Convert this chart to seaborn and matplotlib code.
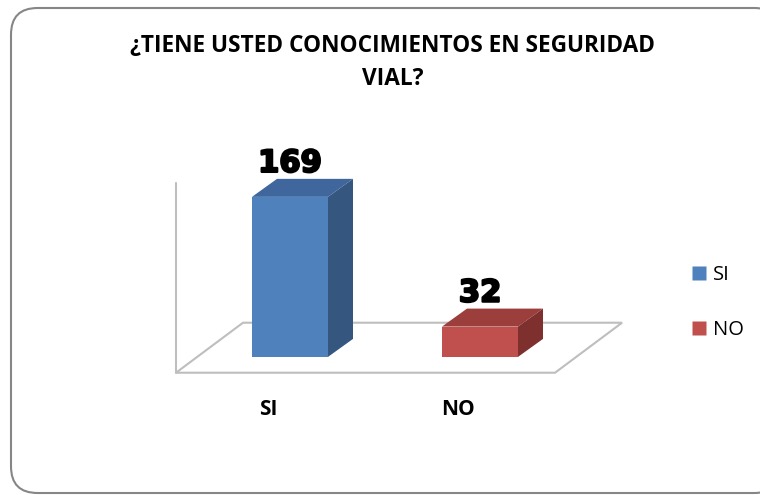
import matplotlib
matplotlib.use("Agg")
import matplotlib.pyplot as plt
import matplotlib.patheffects as pe
import seaborn as sns
import pandas as pd
from matplotlib.patches import Polygon, FancyBboxPatch
from matplotlib.lines import Line2D
from matplotlib.transforms import ScaledTranslation

# Data
categories = ["SI", "NO"]
values = [169, 32]
title = "¿TIENE USTED CONOCIMIENTOS EN SEGURIDAD\nVIAL?"

front_colors = ["#4F81BD", "#C0504D"]
side_colors = ["#34567F", "#7E302E"]
top_colors = ["#3F679D", "#9C3E3C"]

df = pd.DataFrame({"respuesta": categories, "total": values})

sns.set_style("white")
plt.rcParams["font.family"] = ["Open Sans", "DejaVu Sans"]
plt.rcParams["text.color"] = "black"
plt.rcParams["xtick.color"] = "black"

fig = plt.figure(figsize=(7.6, 4.95), dpi=100)

# rounded frame (behind everything)
frame = FancyBboxPatch((11 / 760, 2 / 495), 770 / 760, 485 / 495,
                       boxstyle="round,pad=0,rounding_size=0.035",
                       transform=fig.transFigure, facecolor="white",
                       edgecolor="#868686", linewidth=1.5, zorder=-5,
                       mutation_aspect=760 / 495)
fig.patches.append(frame)

# axes placed so that 1 x-unit = 190 px and 1 y-unit ~ 0.947 px
ax = fig.add_axes([176 / 760, (495 - 373) / 495, 475 / 760, 205.5 / 495])
ax.patch.set_alpha(0)

sns.barplot(data=df, x="respuesta", y="total", hue="respuesta",
            palette=front_colors, width=0.4, ax=ax, legend=False,
            saturation=1, zorder=3, linewidth=0)
ax.set_xlim(-0.6, 1.9)
ax.set_ylim(-17, 200)

# depth of bars and floor (data units)
px_x = 190.0
px_y = 205.5 / 217
bdx, bdy = 25 / px_x, 18 / px_y
fdx, fdy = 67 / px_x, 50 / px_y
floor_y = -17 + 0.3

# floor and wall
x_left, x_right = -0.6, 1.395
floor = Polygon([(x_left, floor_y), (x_right, floor_y),
                 (x_right + fdx, floor_y + fdy), (x_left + fdx, floor_y + fdy)],
                closed=True, facecolor="white", edgecolor="#BEBEBE",
                linewidth=1.5, zorder=1, clip_on=False)
ax.add_patch(floor)
ax.plot([x_left, x_left], [floor_y, 184], color="#BEBEBE", lw=1.5,
        zorder=1, clip_on=False)

for i, p in enumerate(ax.patches[:len(values)]):
    x0 = p.get_x()
    w = p.get_width()
    h = p.get_height()
    x1 = x0 + w
    top = Polygon([(x0, h), (x1, h), (x1 + bdx, h + bdy), (x0 + bdx, h + bdy)],
                  closed=True, facecolor=top_colors[i], edgecolor="none", zorder=3)
    side = Polygon([(x1, 0), (x1 + bdx, bdy), (x1 + bdx, h + bdy), (x1, h)],
                   closed=True, facecolor=side_colors[i], edgecolor="none", zorder=3)
    ax.add_patch(top)
    ax.add_patch(side)
    ax.text(x0 + w / 2, h + bdy + 1, str(values[i]),
            ha="center", va="bottom", fontsize=22, fontweight="bold",
            family="DejaVu Sans", color="black", zorder=5,
            path_effects=[pe.withStroke(linewidth=1.6, foreground="black")])

sns.despine(ax=ax, left=True, bottom=True)
ax.set_yticks([])
ax.set_xlabel("")
ax.set_ylabel("")
ax.tick_params(axis="x", length=0, pad=19)
for lab in ax.get_xticklabels():
    lab.set_fontweight("bold")
    lab.set_fontsize(15)
    lab.set_color("black")
    lab.set_transform(lab.get_transform() + ScaledTranslation(-22 / 100, 0, fig.dpi_scale_trans))

fig.text(393 / 760, 1 - 63 / 495, title, ha="center", va="center",
         fontsize=16.3, fontweight="bold", linespacing=1.5, color="black")

handles = [Line2D([0], [0], marker="s", linestyle="none", markersize=10,
                  markerfacecolor=c, markeredgecolor="none") for c in front_colors]
fig.legend(handles, categories, loc="upper left",
           bbox_to_anchor=(673 / 760, 1 - 247 / 495), frameon=False,
           fontsize=14.5, handlelength=0.8, handletextpad=0.3, labelspacing=1.75)

fig.savefig("out.png", dpi=100)
